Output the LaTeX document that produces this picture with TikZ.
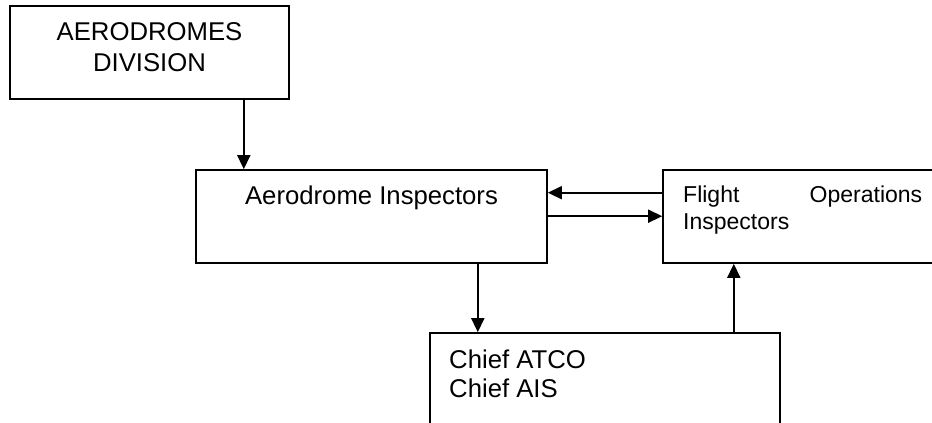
\documentclass[tikz,border=0pt]{standalone}
\usepackage{fontspec}
\setmainfont{Liberation Sans}
\usetikzlibrary{arrows.meta}
\begin{document}
\begin{tikzpicture}[x=1pt,y=-1pt,
  box/.style={draw,line width=1.6pt,inner sep=0pt,rectangle},
  conn/.style={line width=1.6pt,-{Triangle[length=14pt,width=13pt]}},
  bigtxt/.style={inner sep=0pt,font=\fontsize{25.7pt}{30pt}\selectfont},
  smalltxt/.style={inner sep=0pt,font=\fontsize{23pt}{27pt}\selectfont}]
\useasboundingbox (0,0) rectangle (932,423);
\clip (0,0) rectangle (932,423);
% boxes
\node[box,minimum width=279pt,minimum height=93pt] (div) at (149.5,52.5) {};
\node[box,minimum width=351pt,minimum height=93pt] (ai) at (371.5,216.5) {};
\node[box,minimum width=320pt,minimum height=93pt] (fo) at (823,216.5) {};
\node[box,minimum width=350pt,minimum height=140pt] (ch) at (605,403) {};
% texts
\node[bigtxt,anchor=base] (t1) at (149.5,40) {AERODROMES};
\node[bigtxt,anchor=base] (t2) at (149.5,71) {DIVISION};
\node[bigtxt,anchor=base] (t3) at (371.5,204) {Aerodrome Inspectors};
\node[smalltxt,anchor=base west] (t4) at (683,202.7) {\makebox[239pt][s]{Flight\hfill Operations}};
\node[smalltxt,anchor=base west] (t5) at (683,229) {Inspectors};
\node[bigtxt,anchor=base west] (t6) at (449,368.3) {Chief ATCO};
\node[bigtxt,anchor=base west] (t7) at (449,397.7) {Chief AIS};
% connectors
\coordinate (a1) at ([xshift=-46pt]div.south east);
\draw[conn] (a1) -- (a1 |- ai.north);
\coordinate (a2) at ([yshift=-23.5pt]fo.north west);
\draw[conn] (a2) -- (a2 -| ai.east);
\coordinate (a3) at ([yshift=-47pt]ai.north east);
\draw[conn] (a3) -- (a3 -| fo.west);
\coordinate (a4) at ([xshift=-70pt]ai.south east);
\draw[conn] (a4) -- (a4 |- ch.north);
\coordinate (a5) at ([xshift=-47pt]ch.north east);
\draw[conn] (a5) -- (a5 |- fo.south);
\end{tikzpicture}
\end{document}
